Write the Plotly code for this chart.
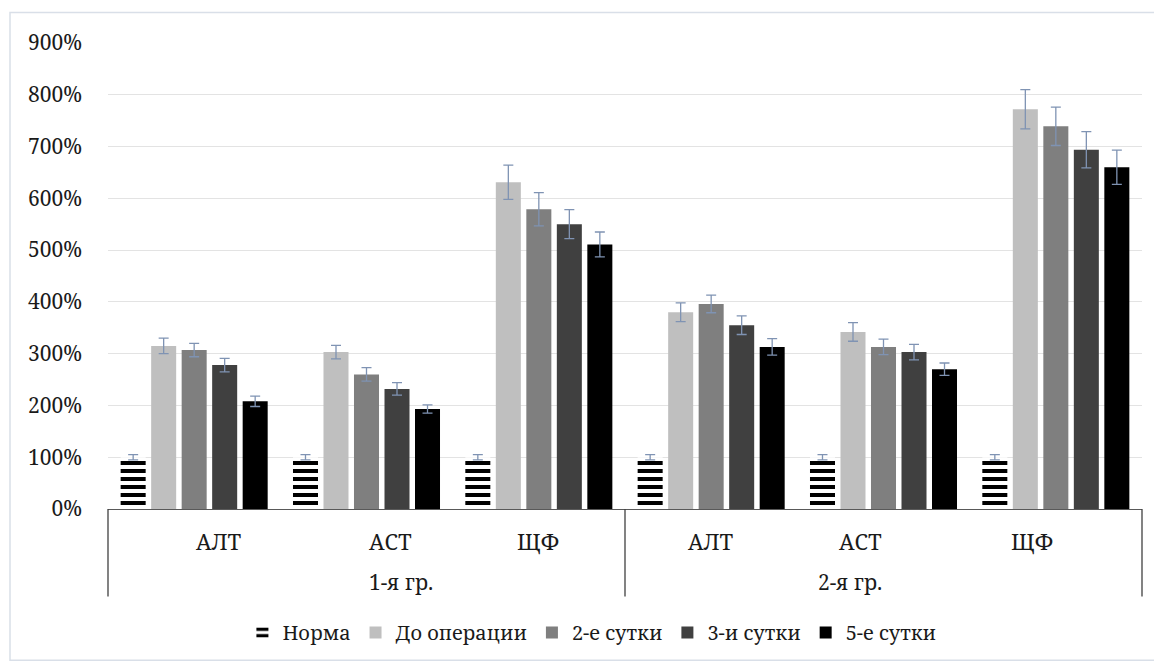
import plotly.graph_objects as go

groups = ["1-я гр."] * 3 + ["2-я гр."] * 3
categories = ["АЛТ", "АСТ", "ЩФ", "АЛТ", "АСТ", "ЩФ"]
group_labels = ["1-я гр.", "2-я гр."]

series_names = ["Норма", "До операции", "2-е сутки", "3-и сутки", "5-е сутки"]

norma = [100, 100, 100, 100, 100, 100]
norma_err = [5, 5, 5, 5, 5, 5]
do_oper = [315, 303, 631, 380, 342, 772]
do_oper_err = [15, 13, 33, 18, 18, 38]
sutki2 = [307, 260, 579, 396, 313, 739]
sutki2_err = [13, 13, 32, 17, 15, 37]
sutki3 = [278, 232, 550, 355, 303, 694]
sutki3_err = [13, 12, 28, 18, 15, 35]
sutki5 = [208, 193, 511, 313, 270, 660]
sutki5_err = [10, 8, 24, 16, 12, 33]

values = [norma, do_oper, sutki2, sutki3, sutki5]
errors = [norma_err, do_oper_err, sutki2_err, sutki3_err, sutki5_err]
colors = ["#ffffff", "#bfbfbf", "#7f7f7f", "#404040", "#000000"]

tick_vals = [0, 100, 200, 300, 400, 500, 600, 700, 800, 900]
tick_text = ["0%", "100%", "200%", "300%", "400%", "500%", "600%", "700%", "800%", "900%"]

FONT = "Noto Serif, DejaVu Serif, serif"
FS = 21
TXT = "#1a1a1a"
ERR = "#7f93b3"
PLOT_W = 1034.0
PLOT_H = 466.4

fig = go.Figure()
for i, (name, vals, errs, col) in enumerate(zip(series_names, values, errors, colors)):
    marker = dict(color=col, line=dict(width=0))
    if i == 0:
        marker = dict(color="#ffffff", line=dict(width=0),
                      pattern=dict(shape="-", fgcolor="#000000", bgcolor="#ffffff",
                                   fgopacity=1, size=8, solidity=0.5, fillmode="replace"))
    fig.add_trace(go.Bar(
        name=name,
        x=[groups, categories],
        y=vals,
        marker=marker,
        error_y=dict(type="data", array=errs, visible=True, color=ERR,
                     thickness=1.3, width=5),
    ))

fig.update_layout(
    width=1154, height=654,
    paper_bgcolor="#ffffff", plot_bgcolor="#ffffff",
    margin=dict(l=100, r=20, t=35, b=152.6, autoexpand=False),
    barmode="group", bargap=0.115, bargroupgap=0.18,
    font=dict(family=FONT, size=FS, color=TXT),
    showlegend=True,
    legend=dict(orientation="h", x=0.468, xanchor="center", y=-0.265, yanchor="middle",
                font=dict(family=FONT, size=FS - 1, color=TXT),
                itemwidth=30, traceorder="normal"),
)
fig.update_yaxes(range=[0, 900], tickvals=tick_vals, ticktext=tick_text,
                 showgrid=True, gridcolor="#e3e3e3", gridwidth=1,
                 zeroline=False, showline=False, ticks="",
                 ticklabelstandoff=25, automargin=False,
                 tickfont=dict(family=FONT, size=FS, color=TXT))
fig.update_xaxes(type="multicategory", showline=True, linecolor="#595959", linewidth=1.3,
                 showdividers=False, showticklabels=False, ticks="", automargin=False)

# category labels (first level) and group labels (second level)
n_cat = len(categories)
for i, c in enumerate(categories):
    fig.add_annotation(text=c, xref="paper", yref="paper", x=(i + 0.5) / n_cat,
                       y=-(541 - 509.4) / PLOT_H, yanchor="middle", showarrow=False,
                       font=dict(family=FONT, size=FS + 1, color=TXT))
for j, g in enumerate(group_labels):
    fig.add_annotation(text=g, xref="paper", yref="paper", x=(j + 0.5) / len(group_labels),
                       y=-(582 - 509.4) / PLOT_H, yanchor="middle", showarrow=False,
                       font=dict(family=FONT, size=FS, color=TXT))
# group dividers
for k in range(len(group_labels) + 1):
    xk = k / len(group_labels)
    fig.add_shape(type="line", xref="paper", yref="paper", x0=xk, x1=xk,
                  y0=0, y1=-(597 - 509.4) / PLOT_H, line=dict(color="#404040", width=1.3))

# chart-area border
fig.add_shape(type="rect", xref="paper", yref="paper",
              x0=-98 / PLOT_W, x1=1 + 19 / PLOT_W, y0=-151.5 / PLOT_H, y1=1 + 30.5 / PLOT_H,
              line=dict(color="#d9dfe8", width=1.5), fillcolor="rgba(0,0,0,0)", layer="below")

fig.write_html("out.html")
